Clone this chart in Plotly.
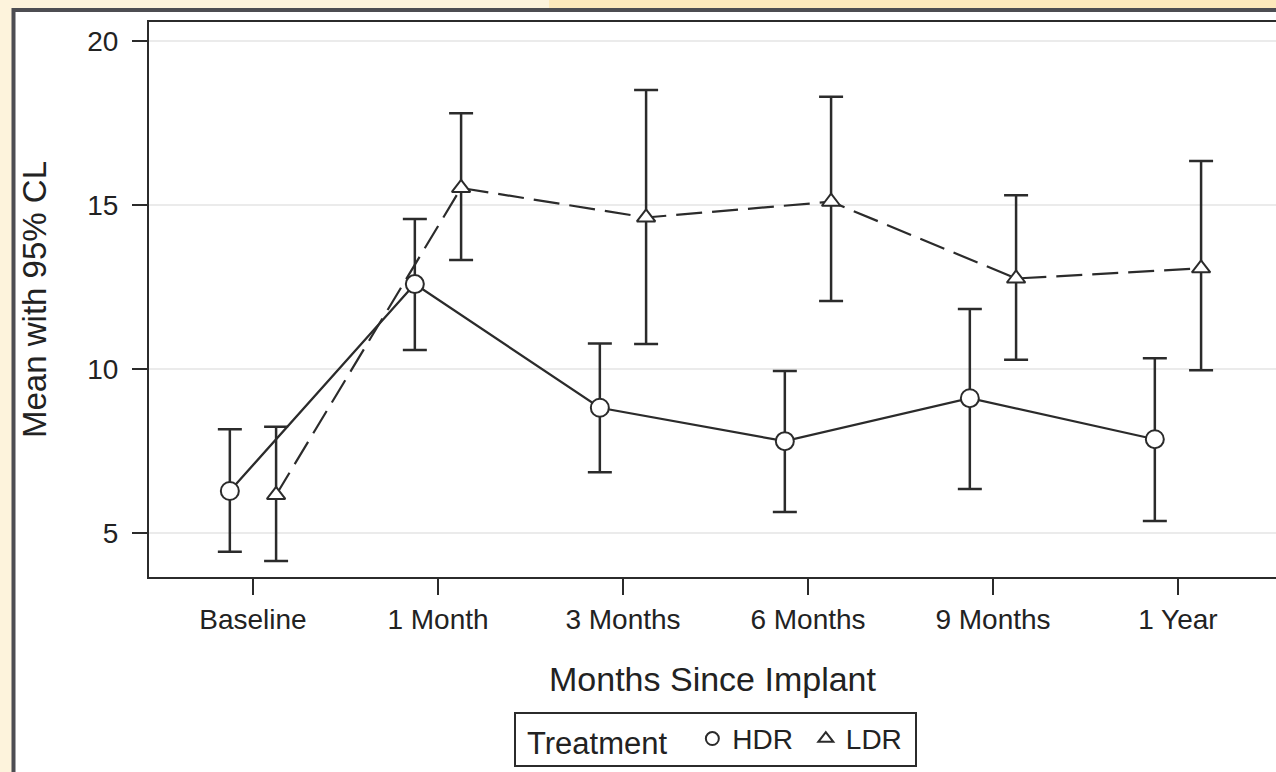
import plotly.graph_objects as go

categories = ["Baseline", "1 Month", "3 Months", "6 Months", "9 Months", "1 Year"]

hdr_mean = [6.28, 12.59, 8.82, 7.80, 9.11, 7.86]
hdr_upper = [8.16, 14.57, 10.78, 9.94, 11.83, 10.33]
hdr_lower = [4.43, 10.58, 6.85, 5.64, 6.34, 5.37]

ldr_mean = [6.16, 15.52, 14.62, 15.10, 12.76, 13.07]
ldr_upper = [8.24, 17.80, 18.51, 18.30, 15.30, 16.34]
ldr_lower = [4.15, 13.32, 10.76, 12.07, 10.28, 9.96]

y_ticks = [5, 10, 15, 20]

DARK = "#2b2b2b"
GROUP_OFFSET = 0.125
FONT = "Liberation Sans, Arial, sans-serif"
NB = "&nbsp;"

idx = list(range(len(categories)))
x_hdr = [i - GROUP_OFFSET for i in idx]
x_ldr = [i + GROUP_OFFSET for i in idx]

fig = go.Figure()

fig.add_trace(go.Scatter(
    x=x_hdr, y=hdr_mean, mode="lines+markers", name="HDR", showlegend=False,
    line=dict(color=DARK, width=2.2),
    marker=dict(symbol="circle", size=18, color="white", line=dict(color=DARK, width=2)),
    error_y=dict(type="data", symmetric=False,
                 array=[u - m for u, m in zip(hdr_upper, hdr_mean)],
                 arrayminus=[m - l for m, l in zip(hdr_mean, hdr_lower)],
                 color=DARK, thickness=2.5, width=12),
))
fig.add_trace(go.Scatter(
    x=x_ldr, y=ldr_mean, mode="lines+markers", name="LDR", showlegend=False,
    line=dict(color=DARK, width=2.2, dash="26px,10px"),
    marker=dict(symbol="triangle-up", size=16, color="white", line=dict(color=DARK, width=2)),
    error_y=dict(type="data", symmetric=False,
                 array=[u - m for u, m in zip(ldr_upper, ldr_mean)],
                 arrayminus=[m - l for m, l in zip(ldr_mean, ldr_lower)],
                 color=DARK, thickness=2.5, width=12),
))
# legend-only entries (markers only, as in the reference)
fig.add_trace(go.Scatter(x=[None], y=[None], mode="markers", name="HDR" + NB,
                         marker=dict(symbol="circle", size=13, color="white",
                                     line=dict(color=DARK, width=2))))
fig.add_trace(go.Scatter(x=[None], y=[None], mode="markers", name="LDR" + NB,
                         marker=dict(symbol="triangle-up", size=13, color="white",
                                     line=dict(color=DARK, width=2))))

# outer frame and decorative background strips
fig.add_shape(type="rect", xref="paper", yref="paper", layer="below",
              xsizemode="pixel", ysizemode="pixel", xanchor=0, yanchor=1,
              x0=-135.5, x1=2000, y0=-1000, y1=12,
              fillcolor="white", line=dict(color="#4d4d52", width=4))
fig.add_shape(type="rect", xref="paper", yref="paper", layer="below",
              xsizemode="pixel", ysizemode="pixel", xanchor=0, yanchor=1,
              x0=400, x1=1200, y0=14, y1=30,
              fillcolor="#fde9bc", line=dict(width=0))

fig.update_layout(
    width=1276, height=772,
    margin=dict(l=149, r=0, t=22, b=195),
    paper_bgcolor="#fdf3dc", plot_bgcolor="white",
    font=dict(family=FONT, color="#222222", size=28),
    showlegend=True,
    legend=dict(
        orientation="h", x=0.503, xanchor="center", y=-0.243, yanchor="top",
        bgcolor="white", bordercolor=DARK, borderwidth=2,
        font=dict(size=28, family=FONT, color="#222222"),
        title=dict(text=NB + "Treatment" + NB * 2,
                   font=dict(size=31, family=FONT, color="#222222")),
        itemwidth=30, tracegroupgap=0,
    ),
)

fig.update_xaxes(
    range=[-0.562, 5.53], tickmode="array", tickvals=idx, ticktext=categories,
    showgrid=False, zeroline=False,
    showline=True, linecolor=DARK, linewidth=2, mirror=True,
    ticks="outside", ticklen=16, tickwidth=2, tickcolor=DARK,
    tickfont=dict(size=28, family=FONT, color="#222222"),
    title=dict(text="Months Since Implant", standoff=34,
               font=dict(size=34, family=FONT, color="#222222")),
)
fig.update_yaxes(
    range=[3.659, 20.58], tickmode="array", tickvals=y_ticks,
    showgrid=True, gridcolor="#ebebeb", gridwidth=2, zeroline=False,
    showline=True, linecolor=DARK, linewidth=2, mirror=False,
    ticks="outside", ticklen=15, tickwidth=2, tickcolor=DARK,
    ticklabelstandoff=8,
    tickfont=dict(size=28, family=FONT, color="#222222"),
    title=dict(text="Mean with 95% CL", standoff=31,
               font=dict(size=33, family=FONT, color="#222222")),
)

fig.write_html("out.html",
               config={"displayModeBar": False},
               post_script="document.body.style.margin='0';document.body.style.overflow='hidden';")
